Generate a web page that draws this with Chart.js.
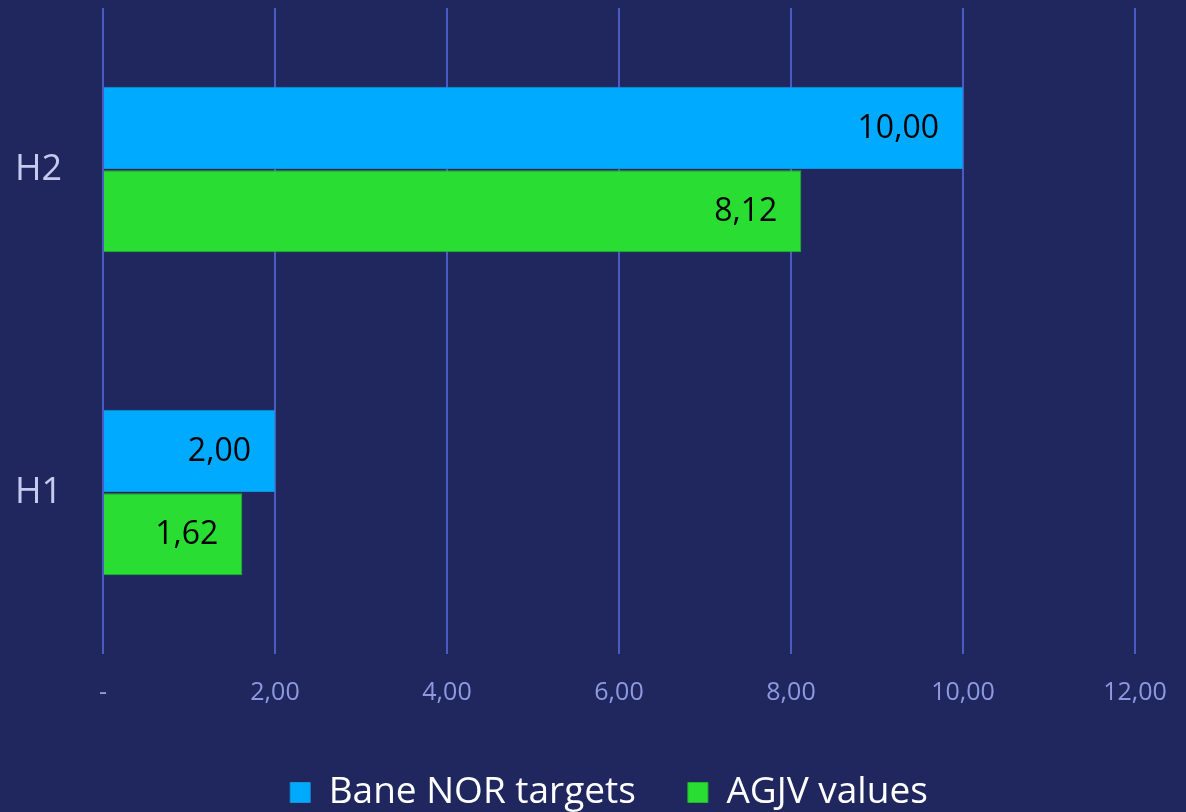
<!DOCTYPE html>
<html>
<head>
<meta charset="utf-8">
<script src="https://cdn.jsdelivr.net/npm/chart.js@4.4.1/dist/chart.umd.min.js"></script>
<style>
  html, body { margin: 0; padding: 0; background: #1f275e; }
  #wrap { width: 1186px; height: 812px; }
</style>
</head>
<body>
<div id="wrap"><canvas id="chart"></canvas></div>
<script>
const categories = ['H2', 'H1'];
const targets = [10.00, 2.00];
const agjvValues = [8.12, 1.62];
const xTicks = [0, 2, 4, 6, 8, 10, 12];

const fmt = v => v === 0 ? '-' : v.toFixed(2).replace('.', ',');

// etiquetas de valor dentro del extremo de cada barra
const valueLabels = {
  id: 'valueLabels',
  afterDatasetsDraw(chart) {
    const ctx = chart.ctx;
    ctx.save();
    ctx.font = '32px "Open Sans"';
    ctx.fillStyle = '#000000';
    ctx.textAlign = 'right';
    ctx.textBaseline = 'middle';
    chart.data.datasets.forEach((ds, i) => {
      chart.getDatasetMeta(i).data.forEach((bar, j) => {
        ctx.fillText(fmt(ds.data[j]), bar.x - 24, bar.y + 1);
      });
    });
    ctx.restore();
  }
};

// mover la leyenda un poco (en el original no está centrada)
const legendShift = {
  id: 'legendShift',
  afterLayout(chart) {
    const lg = chart.legend;
    lg.left += 34; lg.right += 34;
    lg.top += 9; lg.bottom += 9;
  }
};

new Chart(document.getElementById('chart'), {
  type: 'bar',
  data: {
    labels: categories,
    datasets: [
      {
        label: 'Bane NOR targets',
        data: targets,
        backgroundColor: '#00aaff',
        borderColor: '#1591d6',
        borderWidth: 1,
        categoryPercentage: 0.516,
        barPercentage: 0.985
      },
      {
        label: 'AGJV values',
        data: agjvValues,
        backgroundColor: '#29dd33',
        borderColor: '#22b52c',
        borderWidth: 1,
        categoryPercentage: 0.516,
        barPercentage: 0.985
      }
    ]
  },
  options: {
    indexAxis: 'y',
    responsive: true,
    maintainAspectRatio: false,
    animation: false,
    layout: { autoPadding: false, padding: { left: 15, right: 51, top: 8, bottom: 0 } },
    scales: {
      x: {
        min: 0,
        max: 12,
        afterBuildTicks: s => { s.ticks = xTicks.map(v => ({ value: v })); },
        grid: { color: '#4b5bc4', lineWidth: 2, drawTicks: false },
        border: { display: false },
        ticks: {
          color: '#8e9ae0',
          padding: 24,
          font: { family: 'Open Sans', size: 25 },
          callback: v => fmt(v)
        },
        afterFit: s => { s.height = 59; s.paddingLeft = 0; s.paddingRight = 0; }
      },
      y: {
        grid: { display: false },
        border: { display: false },
        ticks: {
          color: '#c5cbef',
          crossAlign: 'far',
          font: { family: 'Open Sans', size: 36 }
        },
        afterFit: s => { s.width = 88; s.paddingTop = 0; s.paddingBottom = 0; }
      }
    },
    plugins: {
      legend: {
        position: 'bottom',
        labels: {
          color: '#ffffff',
          boxWidth: 20,
          boxHeight: 20,
          padding: 52,
          font: { family: 'Open Sans', size: 37 }
        }
      },
      tooltip: { enabled: false }
    }
  },
  plugins: [valueLabels, legendShift]
});
</script>
</body>
</html>
